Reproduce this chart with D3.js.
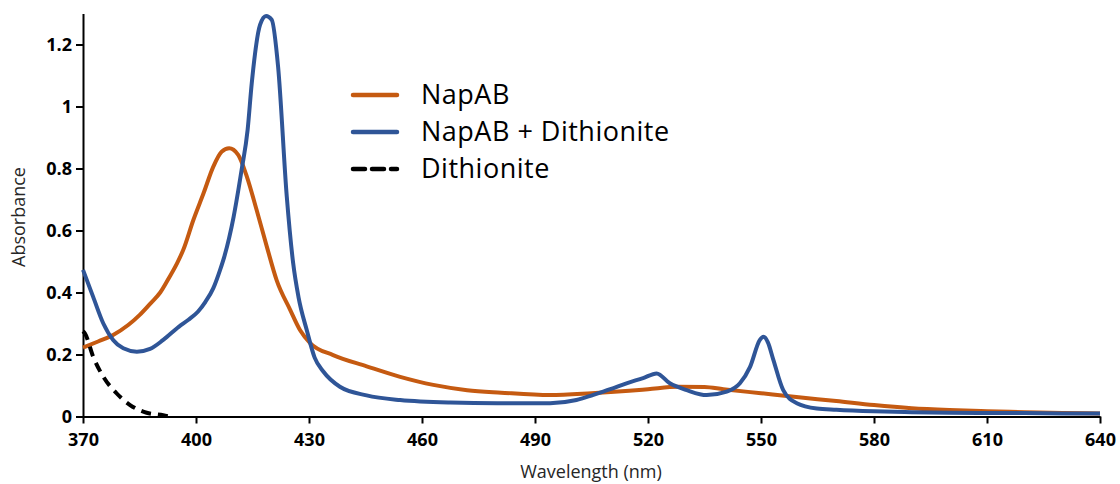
<!DOCTYPE html>
<html>
<head>
<meta charset="utf-8">
<title>NapAB absorbance</title>
<script src="https://cdn.jsdelivr.net/npm/d3@7"></script>
<style>
body { margin: 0; background: #fff; font-family: 'Open Sans', sans-serif; }
svg { display: block; }
.tick text { font-weight: bold; font-size: 18px; fill: #000; }
.axis path, .axis line { stroke: #000; stroke-width: 2px; }
.title { font-size: 18px; fill: #262626; }
.legend text { font-size: 27px; letter-spacing: 0.5px; fill: #000; }
</style>
</head>
<body>
<script>
var width = 1120, height = 484;
var margin = {left: 83, right: 20, top: 13.5, bottom: 68};

var xTicks = [370, 400, 430, 460, 490, 520, 550, 580, 610, 640];
var yTicks = [0, 0.2, 0.4, 0.6, 0.8, 1, 1.2];

// NapAB
var napWl  = [370, 374, 378, 382, 385, 388, 390.5, 393, 395, 396.6, 399.3, 402, 404.6, 406.8, 408.8, 411.2, 413.5, 416.1, 418.8, 421.4, 425, 427.6, 430.3, 436.4, 445.3, 454.2, 463, 472, 481, 494, 505, 515, 520, 528, 535, 540, 550, 560, 570, 580, 590, 600, 610, 620, 630, 640];
var napAbs = [0.222, 0.242, 0.263, 0.295, 0.327, 0.366, 0.4, 0.451, 0.495, 0.537, 0.634, 0.72, 0.806, 0.854, 0.865, 0.844, 0.774, 0.666, 0.548, 0.44, 0.344, 0.279, 0.237, 0.198, 0.162, 0.128, 0.102, 0.085, 0.077, 0.069, 0.075, 0.083, 0.088, 0.096, 0.095, 0.088, 0.075, 0.062, 0.05, 0.037, 0.027, 0.021, 0.017, 0.014, 0.011, 0.01];

// NapAB + Dithionite
var redWl  = [370, 372.7, 375.4, 378, 380.7, 384.3, 387.8, 391.3, 395.5, 398, 400.5, 402.5, 404.6, 406.4, 407.5, 410, 412.1, 413.7, 414.8, 417, 418.6, 420.1, 421.8, 424.1, 425.8, 427.2, 429.4, 431.5, 433.8, 438.2, 445.3, 454.2, 467.5, 480, 494, 501, 505.5, 510, 514.3, 518.7, 522.3, 525.8, 530.3, 535.6, 540.9, 544.4, 547.1, 549.7, 550.7, 551.8, 553.3, 555.9, 559.5, 564.8, 570, 580, 590, 600, 610, 620, 630, 640];
var redAbs = [0.473, 0.386, 0.3, 0.247, 0.22, 0.209, 0.218, 0.247, 0.29, 0.312, 0.338, 0.37, 0.414, 0.473, 0.515, 0.645, 0.795, 0.924, 1.075, 1.263, 1.292, 1.28, 1.128, 0.709, 0.494, 0.386, 0.279, 0.19, 0.145, 0.096, 0.068, 0.053, 0.045, 0.043, 0.043, 0.053, 0.07, 0.088, 0.107, 0.124, 0.139, 0.107, 0.085, 0.069, 0.08, 0.107, 0.16, 0.247, 0.257, 0.24, 0.182, 0.085, 0.043, 0.026, 0.022, 0.017, 0.014, 0.012, 0.011, 0.011, 0.01, 0.01];

// Dithionite alone
var dtWl  = [370, 370.5, 372.7, 375.4, 378.9, 382.5, 386.9, 391.3, 393];
var dtAbs = [0.275, 0.268, 0.193, 0.128, 0.075, 0.037, 0.012, 0.004, 0.0];

var series = [
  {name: "NapAB", wl: napWl, abs: napAbs, color: "#C55A11", dash: null},
  {name: "NapAB + Dithionite", wl: redWl, abs: redAbs, color: "#2F5597", dash: null},
  {name: "Dithionite", wl: dtWl, abs: dtAbs, color: "#000000", dash: "10,7"}
];

var svg = d3.select("body").append("svg")
    .attr("width", width)
    .attr("height", height);

var x = d3.scaleLinear().domain([370, 640]).range([margin.left, width - margin.right]);
var y = d3.scaleLinear().domain([0, 1.3]).range([416.5, margin.top]);

var fmt = function (d) { return d === 0 ? "0" : d === 1 ? "1" : d3.format(".1f")(d); };

svg.append("g")
    .attr("class", "axis")
    .attr("transform", "translate(0," + y(0) + ")")
    .call(d3.axisBottom(x).tickValues(xTicks).tickSize(7).tickSizeOuter(0).tickPadding(10))
    .call(function (g) { g.selectAll(".tick text").attr("font-family", "'Open Sans', sans-serif"); });

svg.append("g")
    .attr("class", "axis")
    .attr("transform", "translate(" + x(370) + ",0)")
    .call(d3.axisLeft(y).tickValues(yTicks).tickFormat(fmt).tickSize(7).tickSizeOuter(0).tickPadding(4))
    .call(function (g) { g.selectAll(".tick text").attr("font-family", "'Open Sans', sans-serif"); });

var line = d3.line()
    .x(function (d) { return x(d[0]); })
    .y(function (d) { return y(d[1]); })
    .curve(d3.curveMonotoneX);

series.forEach(function (s) {
  svg.append("path")
      .datum(d3.zip(s.wl, s.abs))
      .attr("fill", "none")
      .attr("stroke", s.color)
      .attr("stroke-width", 4)
      .attr("stroke-dasharray", s.dash)
      .attr("stroke-linejoin", "round")
      .attr("d", line);
});

// axis titles
svg.append("text")
    .attr("class", "title")
    .attr("text-anchor", "middle")
    .attr("x", 591)
    .attr("y", 478)
    .text("Wavelength (nm)");

svg.append("text")
    .attr("class", "title")
    .attr("text-anchor", "middle")
    .attr("transform", "translate(25," + 217 + ") rotate(-90)")
    .text("Absorbance");

// legend
var legend = svg.append("g").attr("class", "legend");
var rowY = [95, 132, 169];
series.forEach(function (s, i) {
  legend.append("line")
      .attr("x1", 353).attr("x2", 397)
      .attr("y1", rowY[i]).attr("y2", rowY[i])
      .attr("stroke", s.color)
      .attr("stroke-width", 4.5)
      .attr("stroke-linecap", "round")
      .attr("stroke-dasharray", s.dash ? "12,7" : null);
  legend.append("text")
      .attr("x", 421)
      .attr("y", rowY[i])
      .attr("dy", "0.35em")
      .text(s.name);
});
</script>
</body>
</html>
